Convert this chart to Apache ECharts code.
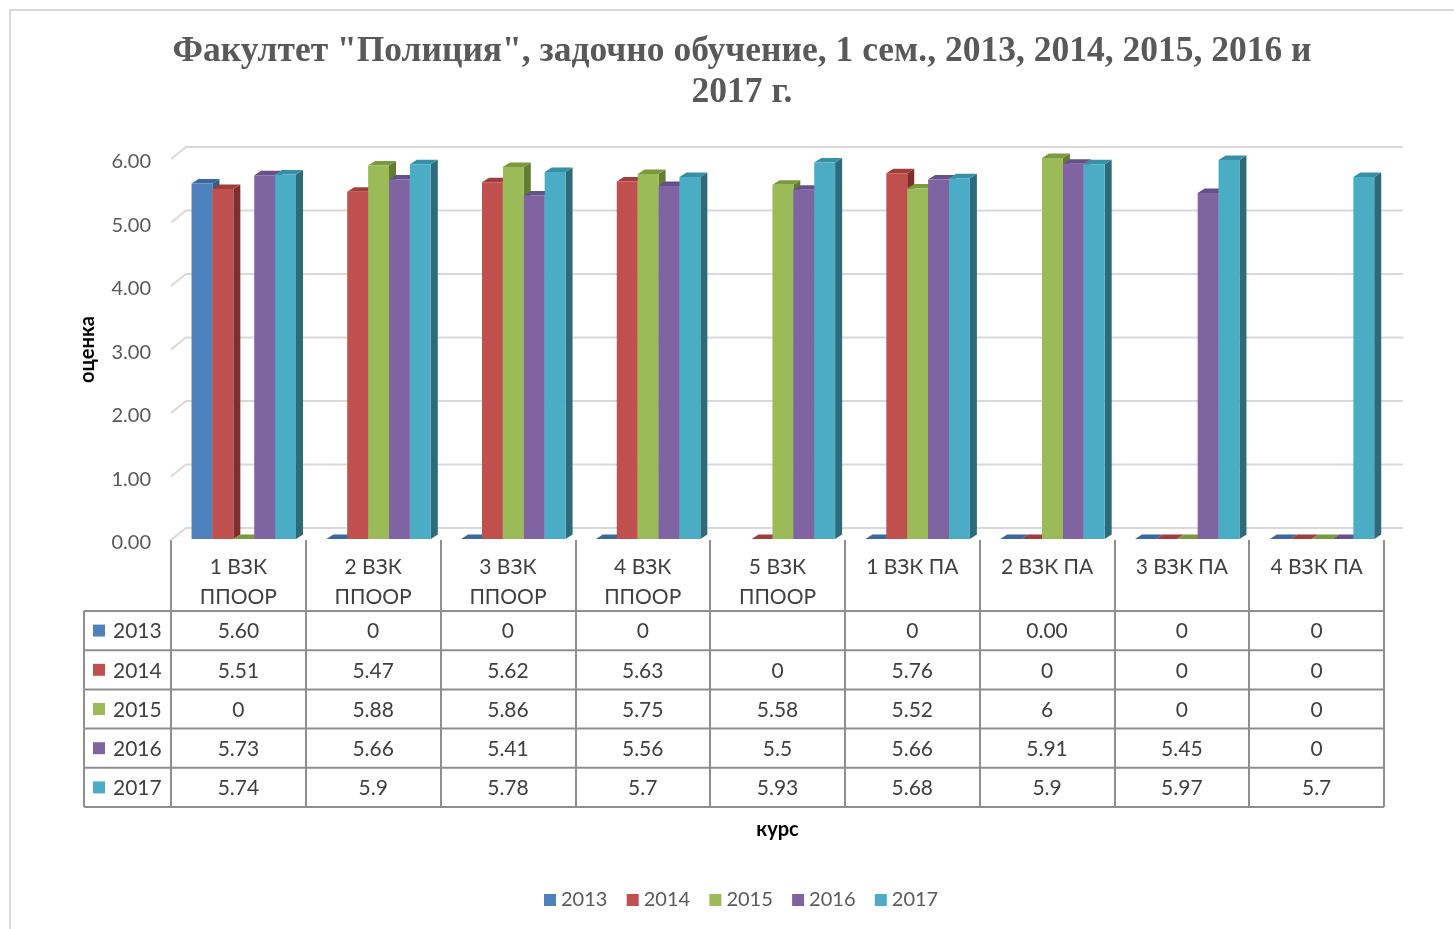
<!DOCTYPE html>
<html><head><meta charset="utf-8">
<script src="https://cdn.jsdelivr.net/npm/echarts@6/dist/echarts.min.js"></script>
<style>html,body{margin:0;padding:0;background:#fff}#c{width:1454px;height:929px}</style>
</head><body><div id="c"></div>
<script>
const categories = ['1 ВЗК ППООР','2 ВЗК ППООР','3 ВЗК ППООР','4 ВЗК ППООР','5 ВЗК ППООР','1 ВЗК ПА','2 ВЗК ПА','3 ВЗК ПА','4 ВЗК ПА'];
const years = ['2013','2014','2015','2016','2017'];
// values exactly as shown in the data table ('' = no value)
const s2013 = ['5.60','0','0','0','','0','0.00','0','0'];
const s2014 = ['5.51','5.47','5.62','5.63','0','5.76','0','0','0'];
const s2015 = ['0','5.88','5.86','5.75','5.58','5.52','6','0','0'];
const s2016 = ['5.73','5.66','5.41','5.56','5.5','5.66','5.91','5.45','0'];
const s2017 = ['5.74','5.9','5.78','5.7','5.93','5.68','5.9','5.97','5.7'];
const yTicks = [0,1,2,3,4,5,6];

const seriesVals = [s2013, s2014, s2015, s2016, s2017];
const front = ['#4F81BD','#C0504D','#9BBB59','#8064A2','#4BACC6'];
const topC  = ['#3C68A0','#A03E3B','#7A9A3E','#64508A','#3590A8'];
const side  = ['#355A88','#7E2F2D','#627D32','#543F70','#2D6A7A'];
const DX = 7, DY = 4.5;

function barRender(si){
  return function(params, api){
    const cat = api.value(0), v = api.value(1);
    const base = api.coord([cat, 0]);
    const top = api.coord([cat, v]);
    const band = api.size([1, 0])[0];
    const w = band * 0.155;
    const x0 = base[0] - 2.5 * w + band * 0.04 + si * w;
    const x1 = x0 + w;
    const yb = base[1] - 1, yt = top[1] - 1;
    const ch = [];
    ch.push({type:'polygon', shape:{points:[[x1,yt],[x1+DX,yt-DY],[x1+DX,yb-DY],[x1,yb]]}, style:{fill:side[si]}});
    ch.push({type:'polygon', shape:{points:[[x0,yt],[x0+DX,yt-DY],[x1+DX,yt-DY],[x1,yt]]}, style:{fill:topC[si]}});
    if (yb - yt > 0.5) ch.push({type:'rect', shape:{x:x0, y:yt, width:w, height:yb-yt}, style:{fill:front[si]}});
    return {type:'group', children:ch};
  };
}

function gridRender(params, api){
  const cs = params.coordSys;
  const y = api.coord([0, api.value(0)])[1];
  return {type:'polyline', shape:{points:[[cs.x, y],[cs.x+15, y-12],[cs.x+cs.width+19, y-12]]},
    style:{stroke:'#d9d9d9', lineWidth:2, fill:null}};
}

const ROWH = 39.2, HEADH = 71, KEYW = 87;
function tableRender(params, api){
  const r = api.value(0);
  const cs = params.coordSys;
  const y0 = cs.y + cs.height + HEADH + r * ROWH, y1 = y0 + ROWH, yc = (y0 + y1) / 2;
  const xL = cs.x - KEYW, xR = cs.x + cs.width;
  const ls = {stroke:'#8f8f8f', lineWidth:2};
  const ch = [];
  if (r === 0) ch.push({type:'line', shape:{x1:xL, y1:y0, x2:xR, y2:y0}, style:ls});
  ch.push({type:'line', shape:{x1:xL, y1:y1, x2:xR, y2:y1}, style:ls});
  ch.push({type:'line', shape:{x1:xL, y1:y0, x2:xL, y2:y1}, style:ls});
  ch.push({type:'rect', shape:{x:xL+9, y:yc-6, width:12, height:12}, style:{fill:front[r]}});
  ch.push({type:'text', x:xL+29, y:yc+1, style:{text:years[r], fill:'#404040', font:'21px Lato', textAlign:'left', textVerticalAlign:'middle'}});
  seriesVals[r].forEach(function(t, c){
    const x = api.coord([c, 0])[0];
    ch.push({type:'text', x:x, y:yc+1, style:{text:t, fill:'#404040', font:'21px Lato', textAlign:'center', textVerticalAlign:'middle'}});
  });
  return {type:'group', children:ch};
}

const series = [{
  type:'custom', name:'grid', coordinateSystem:'cartesian2d', renderItem:gridRender,
  data: yTicks.map(function(v){return [v];}), encode:{x:-1, y:0}, z:1, silent:true
}];
seriesVals.forEach(function(arr, si){
  const data = [];
  arr.forEach(function(t, c){ if (t !== '') data.push([c, Number(t)]); });
  series.push({type:'custom', name:years[si], coordinateSystem:'cartesian2d', renderItem:barRender(si),
    data:data, encode:{x:0, y:1}, itemStyle:{color:front[si]}, z:2});
});
series.push({type:'custom', name:'table', coordinateSystem:'cartesian2d', renderItem:tableRender,
  data: years.map(function(y, i){return [i];}), encode:{x:-1, y:-1}, z:3, silent:true});

const chart = echarts.init(document.getElementById('c'));
chart.setOption({
  animation:false,
  backgroundColor:'#fff',
  graphic:[{type:'rect', shape:{x:10, y:10, width:1470, height:940}, style:{fill:null, stroke:'#d9d9d9', lineWidth:2}, z:-1}],
  title:{
    text:'Факултет "Полиция", задочно обучение, 1 сем., 2013, 2014, 2015, 2016 и\n2017 г.',
    left:737, top:26, textAlign:'center',
    textStyle:{fontFamily:'Liberation Serif', fontWeight:'bold', fontSize:35.5, color:'#595959', lineHeight:41}
  },
  legend:{
    data:years, top:885, left:539, icon:'rect', itemWidth:12, itemHeight:12, itemGap:19.3,
    textStyle:{fontFamily:'Lato', fontSize:20, color:'#595959'}
  },
  grid:{left:171, right:70, top:159, bottom:389, containLabel:false},
  xAxis:{
    type:'category', data:categories,
    name:'курс', nameLocation:'middle', nameGap:280,
    nameTextStyle:{fontFamily:'Lato', fontWeight:'bold', fontSize:20, color:'#000'},
    axisLine:{show:false},
    axisTick:{show:true, interval:0, length:267, lineStyle:{color:'#8f8f8f', width:2}},
    axisLabel:{interval:0, margin:12, fontFamily:'Lato', fontSize:21, color:'#404040', lineHeight:30,
      formatter:function(v){return v.replace(' ППООР','\nППООР');}}
  },
  yAxis:{
    type:'value', min:0, max:6, interval:1,
    name:'оценка', nameLocation:'middle', nameGap:73, nameRotate:90,
    nameTextStyle:{fontFamily:'Lato', fontWeight:'bold', fontSize:20, color:'#000'},
    axisLine:{show:false}, axisTick:{show:false}, splitLine:{show:false},
    axisLabel:{margin:20, verticalAlign:'top', lineHeight:6, fontFamily:'Lato', fontSize:20, color:'#595959', formatter:function(v){return v.toFixed(2);}}
  },
  series:series
});
</script></body></html>
